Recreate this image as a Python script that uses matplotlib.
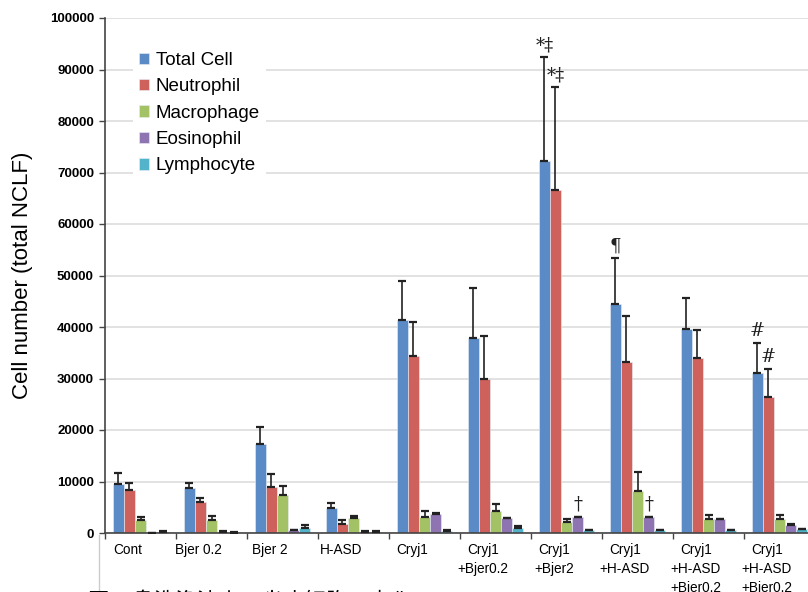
import matplotlib
matplotlib.use("Agg")
import matplotlib.pyplot as plt
import numpy as np
from matplotlib.lines import Line2D

# categories and series
groups = ["Cont", "Bjer 0.2", "Bjer 2", "H-ASD", "Cryj1", "Cryj1\n+Bjer0.2",
          "Cryj1\n+Bjer2", "Cryj1\n+H-ASD", "Cryj1\n+H-ASD\n+Bjer0.2",
          "Cryj1\n+H-ASD\n+Bjer0.2"]
series_names = ["Total Cell", "Neutrophil", "Macrophage", "Eosinophil", "Lymphocyte"]

total_cell = [9500, 8700, 17300, 4900, 41300, 37900, 72300, 44500, 39600, 31100]
total_cell_err = [2100, 1000, 3300, 900, 7600, 9700, 20100, 8900, 6000, 5800]
neutrophil = [8300, 6000, 8900, 1800, 34400, 29900, 66600, 33200, 34000, 26400]
neutrophil_err = [1400, 800, 2600, 700, 6600, 8400, 20000, 8900, 5400, 5400]
macrophage = [2500, 2500, 7400, 2900, 3100, 4300, 2100, 8200, 2700, 2700]
macrophage_err = [600, 800, 1700, 400, 1200, 1300, 600, 3700, 800, 800]
eosinophil = [0, 200, 500, 200, 3700, 2900, 3100, 3100, 2700, 1600]
eosinophil_err = [0, 100, 100, 100, 100, 100, 100, 100, 100, 100]
lymphocyte = [200, 50, 1000, 200, 400, 1000, 500, 500, 500, 700]
lymphocyte_err = [100, 50, 500, 100, 100, 400, 100, 100, 100, 100]

# significance marks: (group index, series index, symbol)
marks = [(6, 0, "*‡"), (6, 1, "*‡"), (7, 0, "¶"), (6, 3, "†"), (7, 3, "†"),
         (9, 0, "#"), (9, 1, "#")]

caption = "図7. 鼻洗浄液中の炎症細胞の変化"

values = [total_cell, neutrophil, macrophage, eosinophil, lymphocyte]
errors = [total_cell_err, neutrophil_err, macrophage_err, eosinophil_err, lymphocyte_err]
colors = ["#5b8bc7", "#cf615c", "#a3c265", "#8e74b0", "#52b3cb"]

plt.rcParams["font.family"] = ["Liberation Sans", "DejaVu Sans"]

W, H = 808, 592
fig = plt.figure(figsize=(W / 100, H / 100), dpi=100)
ax = fig.add_axes([105 / W, 1 - 533 / H, 710 / W, 515 / H])

n = len(series_names)
bw = 0.155
x = np.arange(len(groups)) + 0.5
for k in range(n):
    pos = x + (k - 2) * bw
    ax.bar(pos, values[k], width=bw, color=colors[k], edgecolor="#e8eef5",
           linewidth=0.4, label=series_names[k], zorder=2)
    ax.errorbar(pos, values[k], yerr=[np.zeros(len(groups)), errors[k]],
                fmt="none", ecolor="#222222", elinewidth=1.2, capsize=3,
                capthick=1.6, zorder=3)

for g, s, sym in marks:
    top = values[s][g] + errors[s][g]
    ax.annotate(sym, (x[g] + (s - 2) * bw, top), xytext=(0, 2),
                textcoords="offset points", ha="center", va="bottom",
                fontsize=13, color="#222222", family=["DejaVu Serif"])

ax.set_xlim(0, len(groups))
ax.set_ylim(0, 100000)
ax.set_yticks(np.arange(0, 100001, 10000))
ax.set_yticklabels([str(v) for v in range(0, 100001, 10000)],
                   fontsize=9.5, fontweight="bold")
ax.set_xticks(np.arange(0, len(groups) + 1))
ax.set_xticklabels([])
ax.tick_params(axis="y", direction="out", length=4, width=1, color="#444444", pad=4)
ax.tick_params(axis="x", direction="out", length=4, width=1, color="#444444")
ax.yaxis.grid(True, color="#dddddd", linewidth=1.2, zorder=0)
ax.set_axisbelow(True)
for side in ["top", "right"]:
    ax.spines[side].set_visible(False)
ax.spines["left"].set_color("#444444")
ax.spines["bottom"].set_color("#444444")
ax.spines["left"].set_linewidth(1.2)
ax.spines["bottom"].set_linewidth(1.2)

for i, lab in enumerate(groups):
    ax.annotate(lab, (x[i] - 0.18, 0), xytext=(0, -7), textcoords="offset points",
                ha="center", va="top", fontsize=9.8, linespacing=1.45,
                annotation_clip=False)

ax.set_ylabel("Cell number (total NCLF)", fontsize=16)
ax.yaxis.set_label_coords(-72 / 710, 0.5)

leg = ax.legend(loc="upper left", bbox_to_anchor=(19 / 710, 1 - 19 / 515),
                fontsize=13.5, frameon=True, facecolor="white", edgecolor="none",
                framealpha=1, handlelength=0.55, handleheight=0.55,
                handletextpad=0.35, labelspacing=0.5, borderpad=0.3, fancybox=False)

# faint frame line below the axis, as in the original layout
fig.add_artist(Line2D([99 / W, 99 / W], [0, 1 - 535 / H], color="#cccccc", linewidth=1))

fig.text(88 / W, 1 - 591 / H, caption, fontsize=15.5, va="top", ha="left",
         family=["Noto Sans CJK JP", "DejaVu Sans"])

fig.savefig("out.png", dpi=100)
